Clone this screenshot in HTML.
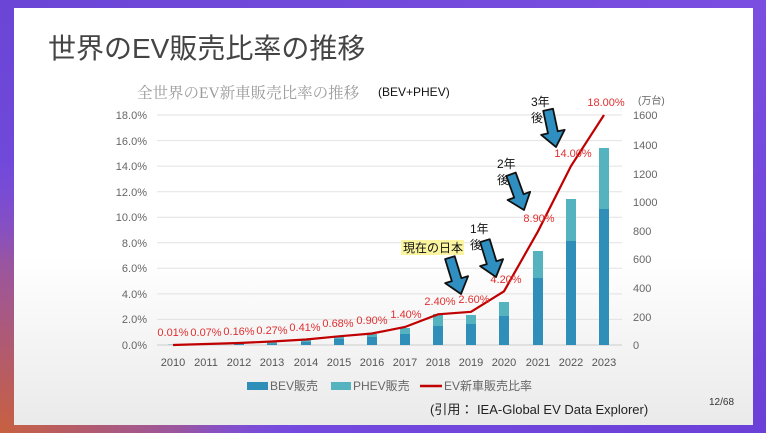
<!DOCTYPE html>
<html><head><meta charset="utf-8"><style>
html,body{margin:0;padding:0;width:766px;height:433px;overflow:hidden}
svg{display:block}
text{font-family:"Liberation Sans","Noto Sans CJK JP",sans-serif}
</style></head><body>
<svg width="766" height="433" viewBox="0 0 766 433" xmlns="http://www.w3.org/2000/svg">
<defs>
<linearGradient id="bg" x1="0" y1="0" x2="1" y2="1">
<stop offset="0" stop-color="#6a45d6"/><stop offset="0.5" stop-color="#7a4ee0"/><stop offset="1" stop-color="#6a40d8"/>
</linearGradient>
<radialGradient id="bl" cx="0" cy="1" r="1">
<stop offset="0" stop-color="#c86040"/><stop offset="0.6" stop-color="#9a55a0"/><stop offset="1" stop-color="#7a4ee0" stop-opacity="0"/>
</radialGradient>
<linearGradient id="sl" x1="0" y1="0" x2="0" y2="1">
<stop offset="0" stop-color="#ffffff"/><stop offset="0.6" stop-color="#ffffff"/><stop offset="1" stop-color="#eaeaea"/>
</linearGradient>
<g id="arr"><polygon points="-5,-38 5,-38 5,-15 12,-15 0,0 -12,-15 -5,-15" fill="#2e8fc0" stroke="#111" stroke-width="1.8" stroke-linejoin="round"/></g>
</defs>
<rect width="766" height="433" fill="url(#bg)"/>
<rect x="0" y="150" width="300" height="283" fill="url(#bl)"/>
<rect x="14" y="8" width="739" height="417" fill="url(#sl)"/>
<text x="48" y="58" font-size="28" fill="#444">世界のEV販売比率の推移</text>
<text x="137" y="98" font-size="15.5" fill="#9a9a9a" style="font-family:'Liberation Serif','Noto Serif CJK SC',serif">全世界のEV新車販売比率の推移</text>
<text x="378" y="96" font-size="12" fill="#111">(BEV+PHEV)</text>
<g stroke="#e2e2e2" stroke-width="1">
<line x1="157" y1="115" x2="622" y2="115"/><line x1="157" y1="140.6" x2="622" y2="140.6"/>
<line x1="157" y1="166.1" x2="622" y2="166.1"/><line x1="157" y1="191.7" x2="622" y2="191.7"/>
<line x1="157" y1="217.2" x2="622" y2="217.2"/><line x1="157" y1="242.8" x2="622" y2="242.8"/>
<line x1="157" y1="268.3" x2="622" y2="268.3"/><line x1="157" y1="293.9" x2="622" y2="293.9"/>
<line x1="157" y1="319.4" x2="622" y2="319.4"/><line x1="157" y1="345" x2="622" y2="345" stroke="#ccc"/>
</g>
<g font-size="11" fill="#666" text-anchor="end">
<text x="147" y="119">18.0%</text><text x="147" y="145">16.0%</text><text x="147" y="170">14.0%</text>
<text x="147" y="196">12.0%</text><text x="147" y="221">10.0%</text><text x="147" y="247">8.0%</text>
<text x="147" y="272">6.0%</text><text x="147" y="298">4.0%</text><text x="147" y="323">2.0%</text><text x="147" y="349">0.0%</text>
</g>
<g font-size="11" fill="#666">
<text x="633" y="119">1600</text><text x="633" y="149">1400</text><text x="633" y="178">1200</text>
<text x="633" y="206">1000</text><text x="633" y="235">800</text><text x="633" y="263">600</text>
<text x="633" y="292">400</text><text x="633" y="321">200</text><text x="633" y="349">0</text>
<text x="638" y="104" font-size="10">(万台)</text>
</g>
<g font-size="11" fill="#555" text-anchor="middle">
<text x="173" y="366">2010</text><text x="206" y="366">2011</text><text x="239" y="366">2012</text><text x="272" y="366">2013</text>
<text x="306" y="366">2014</text><text x="339" y="366">2015</text><text x="372" y="366">2016</text><text x="405" y="366">2017</text>
<text x="438" y="366">2018</text><text x="471" y="366">2019</text><text x="504" y="366">2020</text><text x="538" y="366">2021</text>
<text x="571" y="366">2022</text><text x="604" y="366">2023</text>
</g>
<g fill="#55b3c0">
<rect x="168" y="344.5" width="10" height="0.5"/><rect x="201" y="344" width="10" height="1"/>
<rect x="234" y="343" width="10" height="2"/><rect x="267" y="342" width="10" height="3"/>
<rect x="301" y="340" width="10" height="5"/><rect x="334" y="337" width="10" height="8"/>
<rect x="367" y="334" width="10" height="11"/><rect x="400" y="328" width="10" height="17"/>
<rect x="433" y="314" width="10" height="31"/><rect x="466" y="315" width="10" height="30"/>
<rect x="499" y="302" width="10" height="43"/><rect x="533" y="251" width="10" height="94"/>
<rect x="566" y="199" width="10" height="146"/><rect x="599" y="148" width="10" height="197"/>
</g>
<g fill="#2f8fb8">
<rect x="201" y="344.5" width="10" height="0.5"/><rect x="234" y="344" width="10" height="1"/>
<rect x="267" y="343.5" width="10" height="1.5"/><rect x="301" y="342" width="10" height="3"/>
<rect x="334" y="339" width="10" height="6"/><rect x="367" y="337" width="10" height="8"/>
<rect x="400" y="334" width="10" height="11"/><rect x="433" y="326" width="10" height="19"/>
<rect x="466" y="324" width="10" height="21"/><rect x="499" y="316" width="10" height="29"/>
<rect x="533" y="278" width="10" height="67"/><rect x="566" y="241" width="10" height="104"/>
<rect x="599" y="209" width="10" height="136"/>
</g>
<polyline fill="none" stroke="#c00000" stroke-width="2.2" points="173,345 206,344 239,343 272,341.5 306,339.5 339,336.3 372,333.5 405,327 438,314.3 471,311.8 504,291.3 538,231.3 571,166 604,115"/>
<g font-size="11" fill="#e03030" text-anchor="middle">
<text x="173" y="336">0.01%</text><text x="206" y="336">0.07%</text><text x="239" y="335">0.16%</text>
<text x="272" y="334">0.27%</text><text x="305" y="331">0.41%</text><text x="338" y="327">0.68%</text>
<text x="372" y="324">0.90%</text><text x="406" y="318">1.40%</text><text x="440" y="305">2.40%</text>
<text x="474" y="303">2.60%</text><text x="506" y="283">4.20%</text><text x="539" y="222">8.90%</text>
<text x="573" y="157">14.00%</text><text x="606" y="106">18.00%</text>
</g>
<rect x="401" y="240" width="63" height="15" fill="#fbf5a0"/>
<g font-size="12" fill="#111">
<text x="403" y="252">現在の日本</text>
<text x="470" y="233">1年</text><text x="470" y="249">後</text>
<text x="497" y="168">2年</text><text x="497" y="184">後</text>
<text x="531" y="106">3年</text><text x="531" y="122">後</text>
</g>
<use href="#arr" transform="translate(461,294) rotate(-17)"/>
<use href="#arr" transform="translate(496,277) rotate(-17)"/>
<use href="#arr" transform="translate(524,210) rotate(-20)"/>
<use href="#arr" transform="translate(556,147) rotate(-12)"/>
<rect x="247" y="382" width="21" height="8" fill="#2f8fb8"/>
<text x="270" y="390" font-size="12" fill="#666">BEV販売</text>
<rect x="331" y="382" width="20" height="8" fill="#55b3c0"/>
<text x="353" y="390" font-size="12" fill="#666">PHEV販売</text>
<line x1="420" y1="386" x2="442" y2="386" stroke="#c00000" stroke-width="2.5"/>
<text x="444" y="390" font-size="12" fill="#666">EV新車販売比率</text>
<text x="430" y="414" font-size="13" fill="#222">(引用： IEA-Global EV Data Explorer)</text>
<text x="709" y="405" font-size="10" fill="#333">12/68</text>
</svg>
</body></html>
